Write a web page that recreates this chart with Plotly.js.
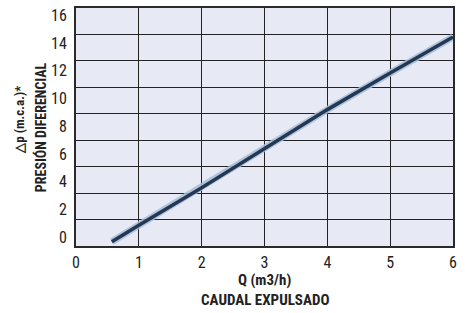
<!DOCTYPE html>
<html>
<head>
<meta charset="utf-8">
<script src="https://cdn.plot.ly/plotly-3.0.1.min.js"></script>
<style>html,body{margin:0;padding:0;background:#fff;}#chart{width:465px;height:313px;}</style>
</head>
<body>
<div id="chart"></div>
<script>
// Data
var caudalQ = [0.57, 1, 2, 3, 4, 5, 6];
var presionDp = [-0.35, 0.85, 3.55, 6.4, 9.2, 11.85, 14.45];
var xTickVals = [0, 1, 2, 3, 4, 5, 6];
var yTickVals = [0, 2, 4, 6, 8, 10, 12, 14, 16];
var yTitleLines = ["△p (m.c.a.)*", "PRESIÓN DIFERENCIAL"];
var xTitleLines = ["Q (m3/h)", "CAUDAL EXPULSADO"];

var FAM = "Roboto Condensed, Liberation Sans Narrow, sans-serif";
var tickFont = {family: FAM, size: 16, color: "#222"};
var titleFont = {family: FAM, size: 15, color: "#222", weight: 700};

var traces = [
  {x: caudalQ, y: presionDp, mode: "lines", line: {color: "rgba(165,190,215,0.85)", width: 7}, hoverinfo: "skip", showlegend: false},
  {x: caudalQ, y: presionDp, mode: "lines", line: {color: "#243753", width: 3.5}, showlegend: false},
  // invisible trace on the grid axis so it is drawn
  {x: [0], y: [0], yaxis: "y2", mode: "markers", marker: {opacity: 0}, hoverinfo: "skip", showlegend: false}
];

var layout = {
  width: 465, height: 313,
  margin: {l: 76, r: 12, t: 8, b: 67},
  paper_bgcolor: "#ffffff",
  plot_bgcolor: "#e7e9f5",
  showlegend: false,
  xaxis: {
    range: [0, 6], tickvals: xTickVals, ticktext: xTickVals.map(String),
    showgrid: true, gridcolor: "#222", gridwidth: 1,
    zeroline: false, showline: true, linecolor: "#2a2a2a", linewidth: 2, mirror: true,
    ticks: "", ticklabelstandoff: 1, tickfont: tickFont, fixedrange: true
  },
  yaxis: {
    range: [-0.65, 16.54], tickvals: yTickVals, ticktext: yTickVals.map(String),
    showgrid: false, zeroline: false, showline: true, linecolor: "#2a2a2a", linewidth: 2, mirror: true,
    ticks: "", ticklabelstandoff: 4, tickfont: tickFont, fixedrange: true
  },
  yaxis2: {
    overlaying: "y", range: [0, 9], dtick: 1, showgrid: true, gridcolor: "#222", gridwidth: 1,
    showticklabels: false, zeroline: false, showline: false, ticks: "", fixedrange: true
  },
  annotations: [
    {xref: "paper", yref: "paper", x: -0.149, y: 0.53, xanchor: "center", yanchor: "middle", textangle: -90,
     text: "<b>" + yTitleLines[0] + "</b>", showarrow: false, font: {family: FAM, size: 13, color: "#222"}},
    {xref: "paper", yref: "paper", x: -0.095, y: 0.5, xanchor: "center", yanchor: "middle", textangle: -90,
     text: "<b>" + yTitleLines[1] + "</b>", showarrow: false, font: {family: FAM, size: 14, color: "#222"}},
    {xref: "paper", yref: "paper", x: 0.5, y: -0.142, xanchor: "center", yanchor: "middle",
     text: "<b>" + xTitleLines[0] + "</b>", showarrow: false, font: titleFont},
    {xref: "paper", yref: "paper", x: 0.5, y: -0.227, xanchor: "center", yanchor: "middle",
     text: "<b>" + xTitleLines[1] + "</b>", showarrow: false, font: titleFont}
  ]
};

Plotly.newPlot("chart", traces, layout, {displayModeBar: false, staticPlot: true});
</script>
</body>
</html>
